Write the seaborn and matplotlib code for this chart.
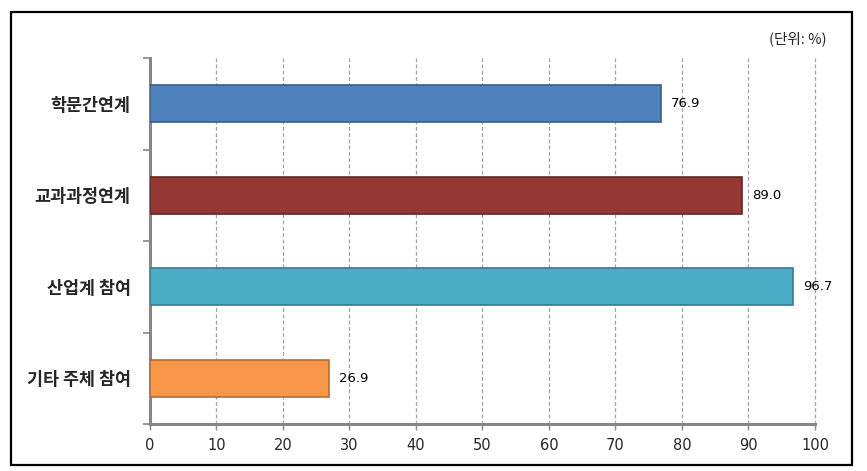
import matplotlib
matplotlib.use("Agg")
import matplotlib.pyplot as plt
import seaborn as sns
import pandas as pd
from matplotlib.patches import Rectangle

# chart data
categories = ['학문간연계', '교과과정연계', '산업계 참여', '기타 주체 참여']
values = [76.9, 89.0, 96.7, 26.9]
bar_colors = ['#4F81BD', '#953735', '#4BACC6', '#F79646']
edge_colors = ['#385D8A', '#632523', '#357D91', '#B66D31']
x_ticks = [0, 10, 20, 30, 40, 50, 60, 70, 80, 90, 100]

df = pd.DataFrame({'category': categories, 'value': values})

sns.set_style('white')
plt.rcParams['font.family'] = ['Noto Sans CJK KR', 'DejaVu Sans']

fig = plt.figure(figsize=(8.67, 4.71), dpi=100)
ax = fig.add_axes([0.173, 0.0998, 0.767, 0.777])

sns.barplot(data=df, x='value', y='category', hue='category',
            palette=bar_colors, saturation=1, width=0.4, legend=False,
            ax=ax, zorder=3)

for patch, ec in zip(ax.patches, edge_colors):
    patch.set_edgecolor(ec)
    patch.set_linewidth(1.2)

# value labels
for i, v in enumerate(values):
    ax.text(v + 1.5, i, f'{v:.1f}', va='center', ha='left', fontsize=9.5,
            family=['DejaVu Sans'], color='black', zorder=4)

ax.set_xlim(0, 100)
ax.set_ylim(3.5, -0.5)
ax.set_xticks(x_ticks)
ax.set_yticks(range(len(categories)))
ax.set_yticklabels(categories, fontsize=12.5, fontweight='bold')
ax.set_yticks([-0.5, 0.5, 1.5, 2.5, 3.5], minor=True)
ax.set_xlabel('')
ax.set_ylabel('')

ax.xaxis.grid(True, color='#A0A0A0', linestyle=(0, (3, 2)), linewidth=0.9, zorder=0)
for gl in ax.get_xgridlines():
    gl.set_clip_on(False)
ax.yaxis.grid(False)
for side in ['top', 'right']:
    ax.spines[side].set_visible(False)
for side in ['left', 'bottom']:
    ax.spines[side].set_color('#868686')
    ax.spines[side].set_linewidth(2.2)

ax.tick_params(axis='x', which='major', direction='out', length=4, width=1,
               color='#868686', labelsize=10.5, pad=6, bottom=True)
ax.tick_params(axis='y', which='major', length=0, pad=14)
ax.tick_params(axis='y', which='minor', direction='out', length=5, width=1.2,
               color='#868686', left=True)
for lbl in ax.get_xticklabels():
    lbl.set_family(['DejaVu Sans'])

fig.text(0.953, 0.918, '(단위: %)', ha='right', va='center', fontsize=10.5)

# outer frame
fig.patches.append(Rectangle((0.0127, 0.0127), 0.970, 0.962, transform=fig.transFigure,
                             fill=False, edgecolor='black', linewidth=1.6))

fig.savefig('out.png', dpi=100)
